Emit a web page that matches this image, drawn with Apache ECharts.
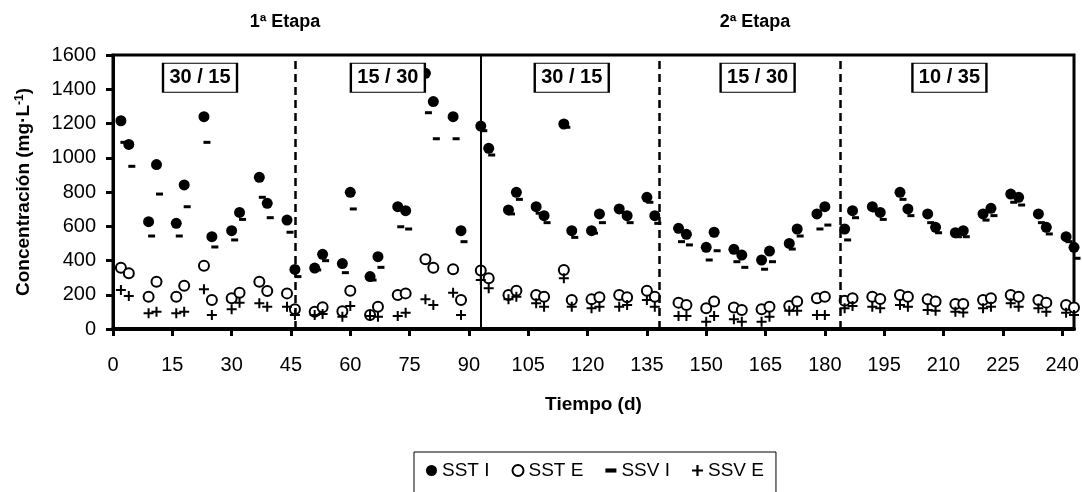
<!DOCTYPE html>
<html>
<head>
<meta charset="utf-8">
<script src="https://cdn.jsdelivr.net/npm/echarts@6/dist/echarts.min.js"></script>
<style>
html,body{margin:0;padding:0;background:#fff;}
#chart{width:1082px;height:492px;}
</style>
</head>
<body>
<div id="chart"></div>
<script>
// ---- data ----
const days = [2,4,9,11,16,18,23,25,30,32,37,39,44,46,51,53,58,60,65,67,72,74,79,81,86,88,93,95,100,102,107,109,114,116,121,123,128,130,135,137,
  143,145,150,152,157,159,164,166,171,173,178,180,185,187,192,194,199,201,206,208,213,215,220,222,227,229,234,236,241,243];
const sstI = [1216,1078,627,960,617,841,1240,539,574,681,886,734,636,348,356,436,382,798,306,422,714,691,1493,1328,1240,574,1185,1055,695,798,714,662,1197,574,574,672,701,662,769,662,
  588,553,477,565,465,432,403,455,500,584,672,714,584,691,714,681,798,701,672,594,562,574,672,705,788,769,672,594,539,477];
const sstE = [358,325,189,276,189,253,370,169,179,212,276,222,208,115,101,127,104,224,82,130,199,208,407,358,349,169,341,296,199,224,199,189,345,169,173,185,199,185,224,189,
  154,140,121,160,125,111,115,130,134,160,179,189,165,179,189,175,199,189,173,160,146,146,169,179,199,189,169,154,140,125];
const ssvI = [1090,950,543,788,543,714,1090,479,520,640,769,650,565,306,345,399,329,701,286,360,597,584,1263,1111,1111,510,1158,1016,672,757,676,621,1178,535,560,621,680,621,740,617,
  510,491,403,457,393,360,349,393,467,543,584,607,520,650,690,640,757,662,621,562,539,539,636,662,740,724,621,555,510,413];
const ssvE = [228,193,92,101,92,101,232,82,115,154,150,130,130,82,82,88,72,134,76,72,76,95,173,140,212,82,286,238,173,189,150,130,296,130,121,130,130,140,170,130,
  76,76,43,76,57,43,43,72,107,107,82,82,121,134,130,121,140,130,111,107,101,97,121,130,150,130,121,101,95,82];
const seriesNames = ['SST I','SST E','SSV I','SSV E'];
const xTicks = [0,15,30,45,60,75,90,105,120,135,150,165,180,195,210,225,240];
const dividerDays = [46, 93, 138, 184];   // vertical separators (93 = change of stage)
const stageChangeDay = 93;
const phaseLabels = ['30 / 15','15 / 30','30 / 15','15 / 30','10 / 35'];
const phaseLabelDays = [22, 69.5, 116, 163, 211.5];
const phaseLabelLevel = 1467;
const stageTitles = ['1ª Etapa','2ª Etapa'];

// ---- font detection (narrow face if installed) ----
function hasFont(name){
  const c=document.createElement('canvas').getContext('2d');
  const s='1600 Etapa Tiempo';
  c.font='40px monospace'; const a=c.measureText(s).width;
  c.font='40px "'+name+'", monospace'; const b=c.measureText(s).width;
  return Math.abs(a-b)>0.5;
}
const narrow = hasFont('Liberation Sans Narrow');
const F = narrow ? "'Liberation Sans Narrow', 'Liberation Sans', Arial, sans-serif" : "'Liberation Sans', Arial, sans-serif";
const S = narrow ? {tick:22, legend:20, name:21, title:19, phase:22, sup:12}
                 : {tick:20, legend:19, name:19, title:18, phase:20, sup:12};

// ---- chart ----
const pair = v => days.map((d,i)=>[d, v[i]]);
const plusPath = 'path://M4,0 L6,0 L6,4 L10,4 L10,6 L6,6 L6,10 L4,10 L4,6 L0,6 L0,4 L4,4 Z';
const dashPath = 'path://M0,0 L8,0 L8,3 L0,3 Z';

const chart = echarts.init(document.getElementById('chart'), null, {renderer:'canvas'});
chart.setOption({
  animation:false,
  backgroundColor:'#fff',
  grid:{left:113,right:8,top:55,bottom:163,show:true,borderColor:'#000',borderWidth:3,backgroundColor:'transparent'},
  graphic:[
    {type:'text',x:285,y:22,style:{text:stageTitles[0],font:"bold "+S.title+"px "+F,fill:'#000',align:'center',verticalAlign:'middle'}},
    {type:'text',x:755,y:22,style:{text:stageTitles[1],font:"bold "+S.title+"px "+F,fill:'#000',align:'center',verticalAlign:'middle'}}
  ],
  xAxis:{
    type:'value',min:0,max:243,
    axisLine:{show:true,lineStyle:{color:'#000',width:4}},
    axisTick:{show:true,inside:false,length:7,lineStyle:{color:'#000',width:3},customValues:xTicks},
    axisLabel:{color:'#000',fontFamily:F,fontSize:S.tick,margin:26,customValues:xTicks},
    splitLine:{show:false},
    name:'Tiempo (d)',nameLocation:'middle',nameGap:66,
    nameTextStyle:{color:'#000',fontFamily:F,fontWeight:'bold',fontSize:S.name}
  },
  yAxis:{
    type:'value',min:0,max:1600,interval:200,
    axisLine:{show:true,lineStyle:{color:'#000',width:3}},
    axisTick:{show:true,inside:false,length:7,lineStyle:{color:'#000',width:3}},
    axisLabel:{color:'#000',fontFamily:F,fontSize:S.tick,margin:17,formatter:v=>String(v)},
    splitLine:{show:false},
    name:'Concentración (mg·L{sup|-1})',nameLocation:'middle',nameGap:80,
    nameTextStyle:{color:'#000',fontFamily:F,fontWeight:'bold',fontSize:S.name,
      rich:{sup:{fontFamily:F,fontWeight:'bold',fontSize:S.sup,verticalAlign:'top',lineHeight:S.name,padding:[0,0,9,0]}}}
  },
  legend:{
    show:true,left:414,top:452,orient:'horizontal',
    borderColor:'#000',borderWidth:1,padding:[9,12,24,12],itemGap:22,itemWidth:11,itemHeight:11,
    textStyle:{color:'#000',fontFamily:F,fontSize:S.legend},
    data:[
      {name:seriesNames[0],icon:'circle'},
      {name:seriesNames[1],icon:'emptyCircle'},
      {name:seriesNames[2],icon:dashPath},
      {name:seriesNames[3],icon:plusPath}
    ]
  },
  series:[
    {name:seriesNames[0],type:'scatter',data:pair(sstI),symbol:'circle',symbolSize:11,
      itemStyle:{color:'#000',opacity:1},z:2,
      markLine:{silent:true,symbol:['none','none'],label:{show:false},
        data:dividerDays.map(d=>({xAxis:d,lineStyle:{color:'#000',opacity:1,width:d===stageChangeDay?2:2.5,type:d===stageChangeDay?'solid':[8,5]}}))},
      markPoint:{silent:true,symbol:'rect',symbolSize:[74,29],
        itemStyle:{color:'#fff',borderColor:'#000',borderWidth:1.5,opacity:1},
        label:{show:true,position:'inside',color:'#000',fontFamily:F,fontWeight:'bold',fontSize:S.phase},
        data:phaseLabels.map((t,i)=>({coord:[phaseLabelDays[i],phaseLabelLevel],value:t}))}
    },
    {name:seriesNames[1],type:'scatter',data:pair(sstE),symbol:'emptyCircle',symbolSize:10,
      itemStyle:{color:'#000',borderColor:'#000',borderWidth:1.5,opacity:1},z:3},
    {name:seriesNames[2],type:'scatter',data:pair(ssvI),symbol:'rect',symbolSize:[7,3],symbolOffset:[3,0],
      itemStyle:{color:'#000',opacity:1},z:4},
    {name:seriesNames[3],type:'scatter',data:pair(ssvE),symbol:plusPath,symbolSize:10,
      itemStyle:{color:'#000',opacity:1},z:5}
  ]
});
</script>
</body>
</html>
